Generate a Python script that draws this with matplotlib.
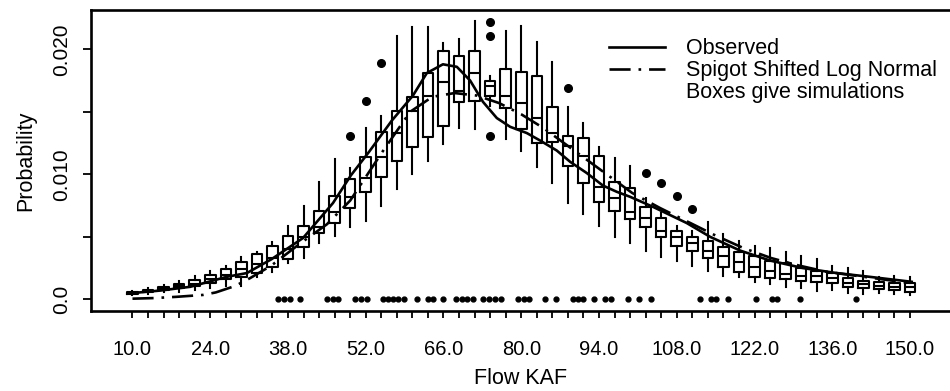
import numpy as np
import matplotlib
matplotlib.use("Agg")
import matplotlib.pyplot as plt
from matplotlib.lines import Line2D

plt.rcParams['font.family'] = ['Liberation Sans', 'DejaVu Sans']

# ---------------- data ----------------
# box positions (flow, KAF)
flow = [10.0, 12.8, 15.6, 18.4, 21.2, 24.0, 26.8, 29.6, 32.4, 35.2,
        38.0, 40.8, 43.6, 46.4, 49.2, 52.0, 54.8, 57.6, 60.4, 63.2,
        66.0, 68.8, 71.6, 74.4, 77.2, 80.0, 82.8, 85.6, 88.4, 91.2,
        94.0, 96.8, 99.6, 102.4, 105.2, 108.0, 110.8, 113.6, 116.4, 119.2,
        122.0, 124.8, 127.6, 130.4, 133.2, 136.0, 138.8, 141.6, 144.4, 147.2,
        150.0]

# simulated probabilities (x 1e-3)
whislo = [0.35, 0.45, 0.55, 0.6, 0.75, 0.9, 1.1, 1.1, 1.8, 2.2,
          2.9, 3.3, 4.5, 5.1, 5.8, 6.3, 7.5, 8.8, 10.0, 11.1,
          12.4, 13.7, 13.6, 15.5, 12.8, 11.9, 10.6, 9.3, 7.7, 6.8,
          5.9, 5.0, 4.5, 3.9, 3.4, 3.1, 2.7, 2.3, 1.9, 1.8,
          1.4, 1.2, 1.0, 0.9, 0.7, 0.75, 0.5, 0.4, 0.5, 0.4,
          0.35]
q1 = [0.45, 0.58, 0.75, 0.9, 1.06, 1.33, 1.6, 1.76, 2.08, 2.6,
      3.2, 4.2, 5.3, 6.1, 7.3, 8.6, 9.8, 11.1, 12.2, 13.0,
      13.9, 15.8, 15.9, 16.3, 15.3, 13.6, 12.5, 12.6, 10.7, 9.3,
      7.8, 7.1, 6.4, 5.8, 5.0, 4.3, 3.9, 3.3, 2.6, 2.2,
      1.8, 1.7, 1.6, 1.5, 1.4, 1.3, 1.0, 0.9, 0.8, 0.75,
      0.6]
med = [0.5, 0.65, 0.85, 1.05, 1.25, 1.6, 1.95, 2.4, 2.8, 3.3,
       4.0, 5.0, 5.8, 7.0, 8.2, 9.7, 11.4, 13.3, 15.1, 16.3,
       17.4, 16.7, 18.1, 17.1, 16.3, 15.7, 14.5, 13.3, 12.3, 11.5,
       9.0, 8.1, 7.0, 6.5, 5.5, 5.0, 4.5, 3.9, 3.5, 3.0,
       2.6, 2.3, 2.0, 1.9, 1.9, 1.7, 1.3, 1.2, 1.1, 1.0,
       0.95]
q3 = [0.6, 0.78, 1.0, 1.25, 1.54, 1.95, 2.4, 3.0, 3.62, 4.3,
      5.1, 5.9, 7.1, 8.3, 9.6, 11.4, 13.4, 15.1, 16.2, 18.1,
      19.9, 19.5, 19.9, 17.5, 18.4, 18.2, 17.9, 15.4, 13.1, 12.9,
      11.5, 9.4, 8.9, 7.4, 6.5, 5.5, 5.0, 4.7, 4.2, 3.8,
      3.5, 3.1, 2.9, 2.5, 2.3, 2.1, 1.7, 1.5, 1.4, 1.3,
      1.3]
whishi = [0.7, 0.9, 1.15, 1.45, 1.9, 2.3, 2.7, 3.4, 3.8, 4.6,
          5.9, 7.5, 9.4, 11.2, 10.5, 13.7, 14.7, 21.1, 21.8, 21.8,
          20.5, 20.8, 22.3, 17.9, 21.5, 21.9, 20.6, 19.0, 15.4, 14.1,
          12.2, 11.3, 10.7, 8.1, 6.9, 5.9, 5.5, 6.2, 5.2, 4.7,
          4.3, 4.1, 3.8, 3.5, 3.2, 2.7, 2.5, 2.3, 1.8, 1.9,
          1.75]
# outlying simulations (x 1e-3), keyed by flow
outliers = {49.2: [13.1], 52.0: [15.9], 54.8: [18.9],
            74.4: [22.2, 21.1, 13.1], 88.4: [16.9],
            102.4: [10.1], 105.2: [9.3], 108.0: [8.3], 110.8: [7.2]}

# simulations with zero probability (flows)
zero_dots = [36.2, 37.3, 38.4, 40.2, 45.0, 46.1, 47.0, 50.1, 51.1, 52.2,
             55.1, 56.0, 56.9, 57.8, 58.9, 61.2, 63.2, 64.1, 65.9, 68.2,
             69.3, 70.2, 71.3, 73.1, 74.2, 75.3, 76.3, 79.4, 80.5, 81.4,
             84.3, 86.3, 89.3, 90.2, 91.1, 93.1, 95.1, 96.1, 99.2, 101.2,
             103.4, 112.2, 114.2, 115.1, 117.2, 122.3, 125.1, 126.0, 130.2, 140.3]

# observed density (x 1e-3)
obs_x = [10.0, 15.0, 20.4, 27.0, 30.6, 32.6, 35.0, 40.7, 46.1, 49.3,
         52.6, 56.7, 60.5, 63.0, 65.9, 68.4, 70.8, 73.1, 75.6, 78.0,
         81.0, 83.4, 86.4, 88.8, 91.8, 94.7, 97.2, 99.6, 103.7, 109.8,
         114.0, 119.4, 124.8, 130.7, 136.8, 142.7, 150.3]
obs_y = [0.5, 0.7, 1.0, 1.8, 2.1, 2.6, 3.2, 4.9, 7.7, 9.9,
         11.8, 14.3, 16.3, 18.1, 18.8, 18.6, 17.5, 15.8, 14.5, 13.8,
         13.3, 12.7, 11.9, 11.0, 10.1, 9.1, 8.6, 8.2, 7.4, 6.1,
         5.0, 3.9, 3.1, 2.5, 2.1, 1.8, 1.4]

# Spigot shifted log normal (x 1e-3)
spig_x = [10.0, 14.0, 18.0, 22.7, 25.0, 28.5, 31.2, 35.0, 40.0, 45.0,
          49.2, 55.0, 60.0, 64.0, 68.0, 72.0, 76.0, 80.0, 84.0, 88.0,
          92.0, 96.0, 100.0, 105.0, 110.0, 115.0, 120.0, 125.0, 130.0, 135.0,
          140.0, 145.0, 150.0]
spig_y = [0.05, 0.1, 0.2, 0.35, 0.55, 1.07, 1.7, 2.7, 4.4, 6.0,
          7.9, 11.8, 15.0, 16.2, 16.5, 16.3, 15.7, 14.8, 13.7, 12.4,
          11.1, 9.8, 8.5, 7.3, 6.2, 5.1, 4.1, 3.3, 2.7, 2.2,
          1.9, 1.6, 1.3]

xtick_labels = ['10.0', '24.0', '38.0', '52.0', '66.0', '80.0', '94.0',
                '108.0', '122.0', '136.0', '150.0']
ytick_values = [0.0, 0.005, 0.010, 0.015, 0.020]
ytick_labels = ['0.0', '', '0.010', '', '0.020']

# ---------------- figure ----------------
fig = plt.figure(figsize=(9.5, 3.91), dpi=100)
ax = fig.add_axes([91 / 950, 80 / 391, 859 / 950, 301 / 391])

scale = 1e-3
stats = []
for i, f in enumerate(flow):
    stats.append(dict(med=med[i] * scale, q1=q1[i] * scale, q3=q3[i] * scale,
                      whislo=whislo[i] * scale, whishi=whishi[i] * scale,
                      fliers=np.array(outliers.get(f, [])) * scale))

ax.bxp(stats, positions=flow, widths=1.9, showcaps=False, manage_ticks=False,
       boxprops=dict(color='black', linewidth=1.5),
       whiskerprops=dict(color='black', linewidth=1.5),
       medianprops=dict(color='black', linewidth=1.5),
       flierprops=dict(marker='o', markerfacecolor='black',
                       markeredgecolor='black', markersize=5.5))

ax.plot(zero_dots, np.zeros(len(zero_dots)), 'o', color='black',
        markersize=3.5, linestyle='none')

ax.plot(obs_x, np.array(obs_y) * scale, color='black', lw=1.9,
        solid_joinstyle='round')
ax.plot(spig_x, np.array(spig_y) * scale, color='black', lw=1.9,
        dashes=(8, 3, 1, 3))

ax.set_xlim(2.53, 157.2)
ax.set_ylim(-0.000936, 0.023144)

ax.set_xticks(flow)
ax.set_xticklabels([xtick_labels[i // 5] if i % 5 == 0 else '' for i in range(len(flow))],
                   fontsize=14.5)
ax.set_yticks(ytick_values)
ax.set_yticklabels(ytick_labels, fontsize=15, rotation=90, va='center')
ax.tick_params(axis='x', direction='out', length=5, width=1.3, pad=16)
ax.tick_params(axis='y', direction='out', length=6, width=1.3, pad=8)

for s in ['left', 'bottom', 'top']:
    ax.spines[s].set_linewidth(1.9)
ax.spines['right'].set_visible(False)

ax.set_xlabel('Flow KAF', fontsize=15.5, labelpad=6)
ax.set_ylabel('Probability', fontsize=15.5, labelpad=12)

handles = [Line2D([], [], color='black', lw=1.9),
           Line2D([], [], color='black', lw=1.9, dashes=(8, 3, 1, 3)),
           Line2D([], [], color='none')]
leg = ax.legend(handles, ['Observed', 'Spigot Shifted Log Normal', 'Boxes give simulations'],
                loc='upper left', bbox_to_anchor=(0.593, 0.935), frameon=False,
                fontsize=15.5, handlelength=2.6, handletextpad=1.0,
                labelspacing=0.05, borderaxespad=0)

fig.savefig('out.png', dpi=100)
